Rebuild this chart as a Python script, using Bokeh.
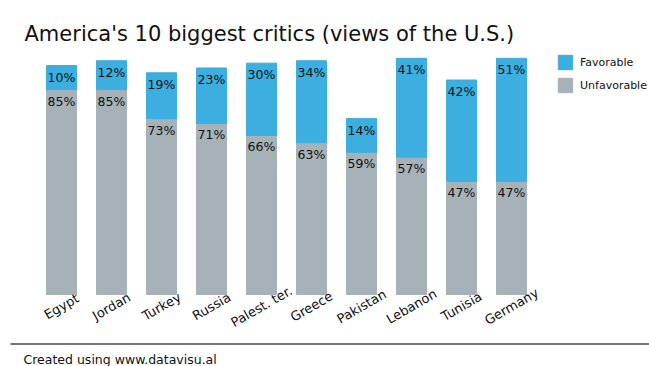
import math
import numpy as np
from bokeh.plotting import figure
from bokeh.models import (ColumnDataSource, Range1d, Legend, LegendItem,
                          Label, BoxAnnotation)
from bokeh.core.properties import value
from bokeh.embed import file_html
from bokeh.resources import INLINE

categories = ["Egypt", "Jordan", "Turkey", "Russia", "Palest. ter.", "Greece",
              "Pakistan", "Lebanon", "Tunisia", "Germany"]
unfavorable = [85, 85, 73, 71, 66, 63, 59, 57, 47, 47]
favorable = [10, 12, 19, 23, 30, 34, 14, 41, 42, 51]

BLUE = "#3caee0"
GRAY = "#a6b1b8"
FONT = "DejaVu Sans"
TXT = "#111111"

W, H = 649, 366
# layout of the plotting region in pixels
X0_PX, STEP_PX = 36, 50          # left edge of first slot, slot width
BASE_PX, PX_PER_UNIT = 294, 2.41  # baseline y, pixels per percent

x = np.arange(len(categories))
unf = np.array(unfavorable)
fav = np.array(favorable)
src = ColumnDataSource(dict(
    x=x, unf=unf, fav=fav,
    unf_top=unf, fav_top=unf + fav,
    unf_lbl=[f"{v}%" for v in unfavorable],
    fav_lbl=[f"{v}%" for v in favorable],
    cat=categories, zero=np.zeros(len(categories)),
))

x_start = -0.5 - X0_PX / STEP_PX
x_end = -0.5 + (W - X0_PX) / STEP_PX
y_start = -(H - BASE_PX) / PX_PER_UNIT
y_end = BASE_PX / PX_PER_UNIT

p = figure(width=W, height=H, output_backend="svg", toolbar_location=None,
           x_range=Range1d(x_start, x_end), y_range=Range1d(y_start, y_end),
           x_axis_location=None, y_axis_location=None,
           min_border=0)
p.outline_line_color = None
p.background_fill_color = "white"
p.border_fill_color = "white"
p.grid.visible = False

BW = 0.6
r_unf = p.vbar(x="x", bottom=0, top="unf_top", width=BW, source=src,
               fill_color=GRAY, line_color=GRAY)
r_fav = p.vbar(x="x", bottom="unf_top", top="fav_top", width=BW, source=src,
               fill_color=BLUE, line_color=BLUE)

for ycol, tcol in (("unf_top", "unf_lbl"), ("fav_top", "fav_lbl")):
    p.text(x="x", y=ycol, text=tcol, source=src, x_offset=-14, y_offset=4,
           text_align="left", text_baseline="top", text_font=value(FONT),
           text_font_size="12.5px", text_color=TXT)

# category labels (rotated), centred under each bar
p.text(x="x", y="zero", text="cat", source=src, y_offset=12, angle=math.pi / 6,
       text_align="center", text_baseline="middle", text_font=value(FONT),
       text_font_size="13px", text_color=TXT)

legend = Legend(items=[LegendItem(label="Favorable", renderers=[r_fav]),
                       LegendItem(label="Unfavorable", renderers=[r_unf])],
                location=(556, H - 94), orientation="vertical",
                glyph_width=18, glyph_height=18, label_height=18, spacing=5,
                label_standoff=6, padding=0, margin=0,
                label_text_font=FONT, label_text_font_size="11px",
                label_text_color=TXT,
                border_line_color=None, background_fill_alpha=0)
p.add_layout(legend)

title = Label(x=24, y=H - 33, x_units="screen", y_units="screen",
              text="America's 10 biggest critics (views of the U.S.)",
              text_font=FONT, text_font_size="21px", text_color=TXT,
              text_baseline="alphabetic")
p.add_layout(title)

footer_line = BoxAnnotation(left=10, right=W, top=H - 342.5, bottom=H - 344.5,
                            left_units="screen", right_units="screen",
                            top_units="screen", bottom_units="screen",
                            fill_color="#777777", fill_alpha=1, line_color=None)
p.add_layout(footer_line)

footer = Label(x=23, y=H - 359, x_units="screen", y_units="screen",
               text="Created using www.datavisu.al",
               text_font=FONT, text_font_size="12.5px", text_color=TXT,
               text_baseline="alphabetic")
p.add_layout(footer)

open("out.html", "w").write(file_html(p, INLINE))
